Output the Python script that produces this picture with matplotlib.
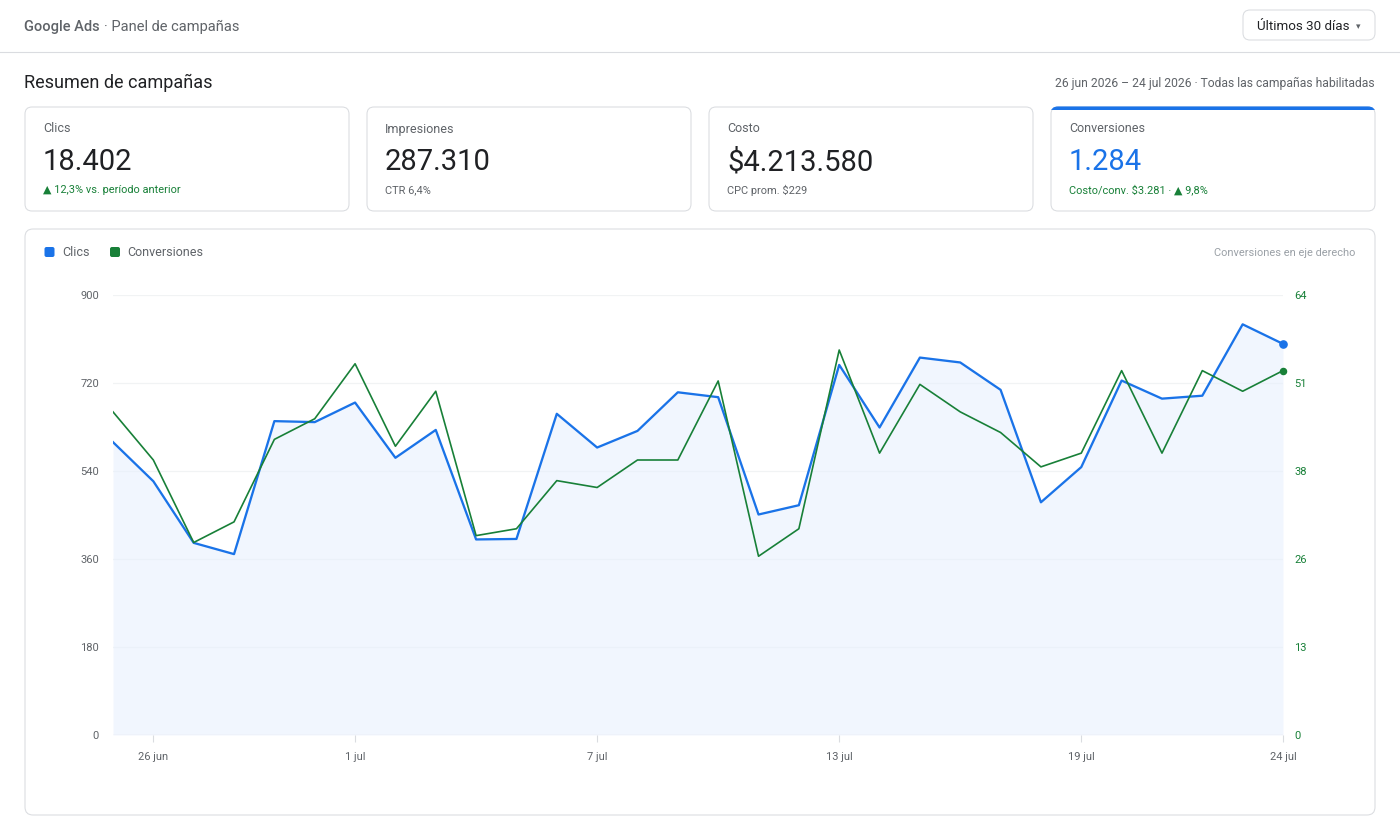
import matplotlib
matplotlib.use("Agg")
import matplotlib.pyplot as plt
from matplotlib.patches import FancyBboxPatch, Rectangle

plt.rcParams['font.family'] = ['Roboto', 'DejaVu Sans']

# ---------------- data ----------------
days = ["25 jun", "26 jun", "27 jun", "28 jun", "29 jun", "30 jun",
        "1 jul", "2 jul", "3 jul", "4 jul", "5 jul", "6 jul", "7 jul",
        "8 jul", "9 jul", "10 jul", "11 jul", "12 jul", "13 jul", "14 jul",
        "15 jul", "16 jul", "17 jul", "18 jul", "19 jul", "20 jul", "21 jul",
        "22 jul", "23 jul", "24 jul"]
clicks = [599, 519, 393, 370, 642, 640, 680, 567, 624, 400,
          401, 657, 588, 622, 701, 691, 451, 470, 757, 629,
          772, 762, 706, 476, 548, 725, 688, 694, 840, 800]
conversions = [47, 40, 28, 31, 43, 46, 54, 42, 50, 29,
               30, 37, 36, 40, 40, 51.5, 26, 30, 56, 41,
               51, 47, 44, 39, 41, 53, 41, 53, 50, 53]
x_tick_labels = ["26 jun", "1 jul", "7 jul", "13 jul", "19 jul", "24 jul"]
left_ticks = [0, 180, 360, 540, 720, 900]
right_ticks = [0, 12.8, 25.6, 38.4, 51.2, 64]
right_tick_labels = ["0", "13", "26", "38", "51", "64"]

kpi_labels = ["Clics", "Impresiones", "Costo", "Conversiones"]
kpi_values = ["18.402", "287.310", "$4.213.580", "1.284"]
kpi_subs = ["▲ 12,3% vs. período anterior", "CTR 6,4%", "CPC prom. $229",
            "Costo/conv. $3.281 · ▲ 9,8%"]

BLUE = "#1a73e8"
GREEN = "#188038"
DARK = "#202124"
GRAY = "#5f6368"
BORDER = "#dadce0"

W, H = 1400, 840
fig = plt.figure(figsize=(W / 100, H / 100), dpi=100)
fig.patch.set_facecolor("white")

bg = fig.add_axes([0, 0, 1, 1])
bg.set_xlim(0, W)
bg.set_ylim(H, 0)
bg.axis("off")


def rbox(x0, y0, x1, y1, r=8, fc="white", ec=BORDER, lw=0.75, z=1):
    p = FancyBboxPatch((x0, y0), x1 - x0, y1 - y0,
                       boxstyle=f"round,pad=0,rounding_size={r}",
                       fc=fc, ec=ec, lw=lw, zorder=z)
    bg.add_patch(p)
    return p


# header
bg.text(24, 27, "Google Ads", fontsize=10.5, color=GRAY, fontweight="medium",
        va="center", ha="left")
bg.text(104, 27, "· Panel de campañas", fontsize=10.5, color=GRAY,
        va="center", ha="left")
bg.plot([0, W], [51.5, 51.5], color=BORDER, lw=0.8)
rbox(1243, 10, 1375, 40, r=7)
bg.text(1257, 26.5, "Últimos 30 días", fontsize=9.6, color=DARK,
        va="center", ha="left")
bg.text(1358, 27, "▾", fontsize=6.5, color=GRAY, va="center", ha="center",
        family=["DejaVu Sans"])

# section title
bg.text(24, 82.5, "Resumen de campañas", fontsize=13, color=DARK,
        va="center", ha="left")
bg.text(1375, 83, "26 jun 2026 – 24 jul 2026 · Todas las campañas habilitadas",
        fontsize=8.75, color=GRAY, va="center", ha="right")

# KPI cards
card_x = [25, 367, 709, 1051]
card_w = 324
for i, cx in enumerate(card_x):
    rbox(cx, 107, cx + card_w, 211, r=7)
    bg.text(cx + 18, 129, kpi_labels[i], fontsize=9.0, color=GRAY,
            va="center", ha="left")
    bg.text(cx + 18, 162.5, kpi_values[i], fontsize=21,
            color=BLUE if i == 3 else DARK, va="center", ha="left")
    sub_col = GREEN if i in (0, 3) else GRAY
    bg.text(cx + 18, 190, kpi_subs[i], fontsize=7.9, color=sub_col,
            va="center", ha="left")
# blue top accent on the last card
acc = rbox(card_x[3], 107, card_x[3] + card_w, 211, r=7, fc=BLUE, ec=BLUE,
           lw=0.8, z=2)
acc.set_clip_path(Rectangle((card_x[3] - 2, 105), card_w + 4, 4.5,
                            transform=bg.transData))

# chart card
rbox(25, 229, 1375, 815, r=8)
bg.add_patch(FancyBboxPatch((44.5, 247), 10, 10,
                            boxstyle="round,pad=0,rounding_size=2",
                            fc=BLUE, ec="none", zorder=3))
bg.text(62, 253, "Clics", fontsize=9.0, color=GRAY, va="center", ha="left")
bg.add_patch(FancyBboxPatch((110, 247), 10, 10,
                            boxstyle="round,pad=0,rounding_size=2",
                            fc=GREEN, ec="none", zorder=3))
bg.text(127, 253, "Conversiones", fontsize=9.0, color=GRAY, va="center",
        ha="left")
bg.text(1355, 253, "Conversiones en eje derecho", fontsize=7.9,
        color="#9aa0a6", va="center", ha="right")

# ---------------- plot ----------------
px0, px1, py0, py1 = 113, 1283, 295, 735
ax = fig.add_axes([px0 / W, (H - py1) / H, (px1 - px0) / W, (py1 - py0) / H])
ax.set_facecolor("none")
xs = list(range(len(days)))
ax.set_xlim(0, len(days) - 1)
ax.set_ylim(0, 900)

ax.fill_between(xs, clicks, 0, color="#e8f0fe", alpha=0.6, lw=0, zorder=1)
ax.plot(xs, clicks, color=BLUE, lw=1.65, zorder=4)
ax.plot(xs[-1], clicks[-1], "o", color=BLUE, ms=5.2, zorder=5, clip_on=False)

ax.set_yticks(left_ticks)
ax.set_yticklabels([str(t) for t in left_ticks])
for t in left_ticks[1:]:
    ax.axhline(t, color="#f1f3f4", lw=0.9, zorder=0)
ax.axhline(0, color=BORDER, lw=0.9, zorder=3)

tick_pos = [days.index(lbl) for lbl in x_tick_labels]
ax.set_xticks(tick_pos)
ax.set_xticklabels(x_tick_labels)

for s in ax.spines.values():
    s.set_visible(False)
ax.tick_params(axis="y", length=0, pad=10, labelsize=8, labelcolor=GRAY)
ax.tick_params(axis="x", length=5, width=0.8, color=BORDER, pad=7,
               labelsize=8, labelcolor=GRAY)

ax2 = ax.twinx()
ax2.set_ylim(0, 64)
ax2.plot(xs, conversions, color=GREEN, lw=1.2, zorder=4)
ax2.plot(xs[-1], conversions[-1], "o", color=GREEN, ms=4.4, zorder=5,
         clip_on=False)
ax2.set_yticks(right_ticks)
ax2.set_yticklabels(right_tick_labels)
for s in ax2.spines.values():
    s.set_visible(False)
ax2.tick_params(axis="y", length=0, pad=8, labelsize=8, labelcolor=GREEN)

fig.savefig("out.png", dpi=100, facecolor="white")
